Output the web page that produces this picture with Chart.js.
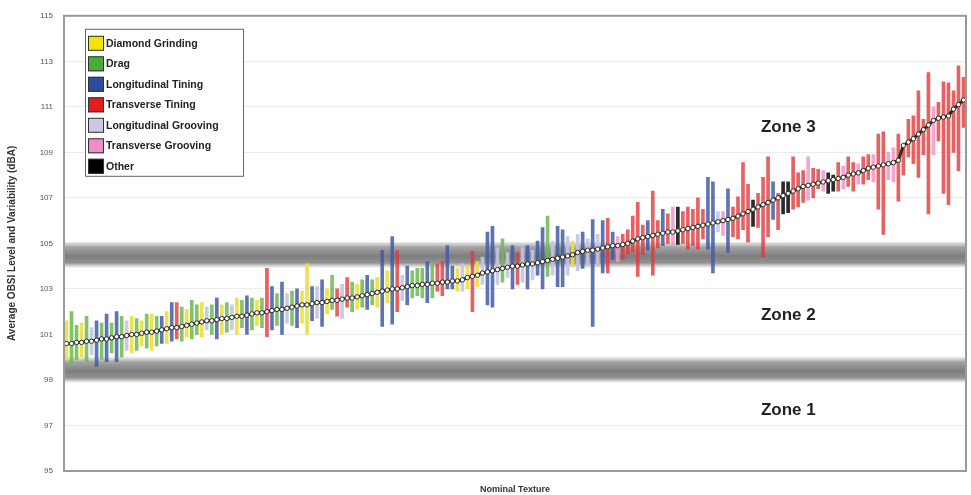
<!DOCTYPE html>
<html>
<head>
<meta charset="utf-8">
<script src="https://cdn.jsdelivr.net/npm/chart.js@4"></script>
<style>
  html, body { margin: 0; padding: 0; background: #fff; }
  canvas { display: block; }
</style>
</head>
<body>
<canvas id="obsiChart" width="971" height="495"></canvas>
<script>
// Average OBSI level per pavement section (dBA), sorted from quietest to loudest
const meanLevel = [
  100.6, 100.6, 100.65, 100.65, 100.7, 100.7, 100.75, 100.8, 100.8, 100.85,
  100.9, 100.9, 100.95, 101.0, 101.0, 101.05, 101.1, 101.1, 101.15, 101.2,
  101.25, 101.3, 101.3, 101.35, 101.4, 101.45, 101.5, 101.55, 101.6, 101.6,
  101.65, 101.7, 101.7, 101.75, 101.8, 101.8, 101.85, 101.9, 101.95, 101.95,
  102.0, 102.05, 102.1, 102.1, 102.15, 102.2, 102.25, 102.3, 102.3, 102.35,
  102.4, 102.4, 102.45, 102.5, 102.5, 102.55, 102.6, 102.6, 102.65, 102.7,
  102.75, 102.8, 102.85, 102.9, 102.95, 103.0, 103.0, 103.05, 103.1, 103.15,
  103.15, 103.2, 103.2, 103.25, 103.25, 103.3, 103.3, 103.35, 103.35, 103.4,
  103.5, 103.55, 103.6, 103.7, 103.75, 103.8, 103.85, 103.9, 103.95, 104.0,
  104.0, 104.05, 104.1, 104.1, 104.15, 104.2, 104.25, 104.3, 104.35, 104.4,
  104.45, 104.5, 104.6, 104.65, 104.7, 104.7, 104.75, 104.8, 104.85, 104.9,
  104.9, 104.95, 105.0, 105.1, 105.2, 105.25, 105.3, 105.35, 105.4, 105.45,
  105.5, 105.5, 105.55, 105.6, 105.65, 105.7, 105.75, 105.8, 105.85, 105.9,
  105.95, 106.0, 106.05, 106.1, 106.2, 106.3, 106.4, 106.5, 106.6, 106.7,
  106.8, 106.9, 107.0, 107.1, 107.2, 107.3, 107.4, 107.5, 107.55, 107.6,
  107.65, 107.7, 107.75, 107.8, 107.85, 107.9, 108.0, 108.05, 108.1, 108.2,
  108.3, 108.35, 108.4, 108.45, 108.5, 108.55, 108.65, 109.3, 109.45, 109.6,
  109.8, 110.0, 110.2, 110.4, 110.5, 110.55, 110.6, 110.9, 111.1, 111.3
];

// bottom of the variability bar
const lowLevel = [
  99.9, 99.7, 99.9, 100.0, 99.8, 100.1, 99.6, 99.9, 99.8, 100.2,
  99.8, 100.0, 100.3, 100.2, 100.3, 100.5, 100.4, 100.3, 100.5, 100.6,
  100.6, 100.7, 100.8, 100.7, 100.9, 100.8, 101.0, 100.9, 101.2, 101.0,
  100.8, 101.0, 101.1, 101.2, 101.0, 101.3, 101.0, 101.2, 101.4, 101.3,
  100.9, 101.2, 101.4, 101.0, 101.5, 101.4, 101.3, 101.5, 101.0, 101.6,
  101.7, 101.35, 101.9, 102.1, 101.8, 101.7, 102.2, 102.0, 102.1, 102.2,
  102.1, 102.3, 102.2, 101.35, 102.4, 101.45, 102.0, 102.5, 102.3, 102.6,
  102.7, 102.6, 102.4, 102.6, 102.9, 102.7, 103.0, 103.0, 102.9, 102.9,
  103.0, 102.0, 103.1, 103.2, 102.3, 102.2, 103.2, 103.3, 103.5, 103.0,
  103.2, 103.3, 103.0, 103.4, 103.6, 103.0, 103.55, 103.6, 103.1, 103.1,
  103.6, 104.0, 103.8, 103.9, 104.0, 101.35, 104.0, 103.7, 103.7, 104.3,
  104.2, 104.3, 104.5, 104.6, 103.55, 104.5, 104.7, 103.6, 104.8, 104.9,
  105.0, 104.9, 104.95, 105.0, 104.75, 104.9, 104.75, 105.2, 104.75, 103.7,
  105.5, 105.35, 104.6, 105.3, 105.2, 105.6, 105.05, 105.75, 105.7, 104.4,
  105.3, 106.05, 105.6, 106.3, 106.35, 106.5, 106.6, 106.8, 106.9, 107.0,
  107.4, 107.3, 107.2, 107.3, 107.3, 107.4, 107.5, 107.3, 107.6, 107.6,
  107.8, 107.7, 106.5, 105.4, 107.8, 107.7, 106.85, 108.0, 108.8, 108.5,
  107.9, 108.9, 106.3, 108.9, 109.5, 107.2, 106.7, 109.0, 108.2, 110.1
];

// top of the variability bar
const highLevel = [
  101.6, 102.0, 101.4, 101.5, 101.8, 101.3, 101.6, 101.5, 101.9, 101.5,
  102.0, 101.8, 101.6, 101.8, 101.7, 101.6, 101.9, 101.9, 101.8, 101.8,
  102.0, 102.4, 102.4, 102.2, 102.1, 102.5, 102.3, 102.4, 102.2, 102.3,
  102.6, 102.3, 102.4, 102.3, 102.6, 102.5, 102.7, 102.6, 102.5, 102.6,
  103.9, 103.1, 102.8, 103.3, 102.8, 102.9, 103.0, 102.9, 104.1, 103.1,
  103.1, 103.4, 103.0, 103.6, 103.0, 103.2, 103.5, 103.3, 103.2, 103.4,
  103.6, 103.4, 103.5, 104.7, 103.8, 105.3, 104.7, 103.6, 104.0, 103.8,
  103.9, 103.9, 104.2, 104.1, 104.1, 104.2, 104.9, 104.0, 103.9, 104.1,
  104.0, 104.65, 104.2, 104.4, 105.5, 105.75, 104.8, 105.2, 104.6, 104.9,
  104.6, 104.8, 104.9, 104.7, 105.1, 105.7, 106.2, 105.1, 105.75, 105.6,
  105.3, 105.1, 105.4, 105.5, 105.2, 106.05, 105.4, 106.0, 106.1, 105.5,
  105.3, 105.4, 105.6, 106.2, 106.8, 105.8, 106.0, 107.3, 106.0, 106.5,
  106.3, 106.6, 106.6, 106.4, 106.6, 106.5, 107.0, 106.5, 107.9, 107.7,
  106.4, 106.4, 107.4, 106.6, 107.05, 108.55, 107.6, 106.9, 107.2, 107.9,
  108.8, 107.7, 107.2, 107.7, 107.7, 108.8, 108.1, 108.2, 108.8, 108.3,
  108.25, 108.2, 108.1, 108.0, 108.55, 108.4, 108.8, 108.55, 108.5, 108.8,
  108.9, 108.9, 109.8, 109.9, 109.0, 109.2, 109.8, 109.35, 110.45, 110.6,
  111.7, 110.45, 112.5, 111.0, 111.2, 112.1, 112.05, 111.7, 112.8, 112.3
];

// texture of each section: Y diamond grinding, G drag, B long. tining, R trans. tining,
// L long. grooving, P trans. grooving, K other
const textureType = [
  'Y','G','G','Y','G','L','B','G','B','G',
  'B','G','L','Y','G','Y','G','Y','G','B',
  'Y','B','R','G','Y','G','G','Y','L','G',
  'B','Y','G','L','Y','G','B','G','Y','G',
  'R','B','G','B','L','G','B','Y','Y','B',
  'L','B','Y','G','R','L','R','G','Y','G',
  'B','G','Y','B','Y','B','R','L','B','G',
  'G','G','B','G','R','R','B','B','Y','L',
  'Y','R','Y','L','B','B','L','G','L','B',
  'R','L','B','L','B','B','G','L','B','B',
  'L','Y','L','B','L','B','L','B','R','B',
  'P','R','R','R','R','R','B','R','R','B',
  'R','P','K','R','R','R','R','R','B','B',
  'L','P','B','R','R','R','R','K','R','R',
  'R','B','R','K','K','R','R','R','P','R',
  'R','P','K','K','R','P','R','R','P','R',
  'R','P','R','R','P','P','R','R','R','R',
  'R','R','R','P','R','R','R','R','R','R'
];

const legendCodes = ['Y', 'G', 'B', 'R', 'L', 'P', 'K'];
const legendLabels = ['Diamond Grinding', 'Drag', 'Longitudinal Tining', 'Transverse Tining',
  'Longitudinal Grooving', 'Transverse Grooving', 'Other'];

// zone boundaries (dBA) and zone captions
const bandLevels = [104.5, 99.45];
const zoneNames = ['Zone 3', 'Zone 2', 'Zone 1'];
const zoneLevels = [110.1, 101.85, 97.65];

const barColor = {
  Y: 'rgba(236,224,60,0.9)', G: 'rgba(108,186,78,0.85)', B: 'rgba(66,92,168,0.85)',
  R: 'rgba(226,58,58,0.8)', L: 'rgba(196,196,226,0.9)', P: 'rgba(240,150,200,0.85)',
  K: 'rgba(20,20,20,0.9)'
};
const swatchColor = {
  Y: '#f3e400', G: '#48ad3a', B: '#2d4c9e', R: '#e41c1c', L: '#cacae8', P: '#f08cc6', K: '#000'
};

const sections = meanLevel.map((_, i) => 'S' + (i + 1));
const ranges = lowLevel.map((lo, i) => [lo, highLevel[i]]);

const FONT = 'Arial, "Liberation Sans", sans-serif';

// grey zone boundaries behind the bars
const bandPlugin = {
  id: 'bands',
  beforeDatasetsDraw(chart) {
    const { ctx, chartArea: a, scales: { y } } = chart;
    bandLevels.forEach(v => {
      const top = y.getPixelForValue(v + 0.6);
      const bot = y.getPixelForValue(v - 0.6);
      const g = ctx.createLinearGradient(0, top, 0, bot);
      g.addColorStop(0, 'rgba(160,160,160,0)');
      g.addColorStop(0.22, 'rgba(155,155,155,0.92)');
      g.addColorStop(0.55, 'rgba(125,125,125,1)');
      g.addColorStop(0.8, 'rgba(138,138,138,0.92)');
      g.addColorStop(1, 'rgba(170,170,170,0)');
      ctx.save();
      ctx.fillStyle = g;
      ctx.fillRect(a.left, top, a.right - a.left, bot - top);
      ctx.restore();
    });
  }
};

// frame, zone captions and the boxed legend
const overlayPlugin = {
  id: 'overlay',
  afterDraw(chart) {
    const { ctx, chartArea: a, scales: { y } } = chart;
    ctx.save();
    ctx.strokeStyle = '#9a9a9a';
    ctx.lineWidth = 2;
    ctx.strokeRect(a.left, a.top, a.right - a.left, a.bottom - a.top);

    ctx.fillStyle = '#222';
    ctx.font = 'bold 17px ' + FONT;
    ctx.textAlign = 'center';
    ctx.textBaseline = 'middle';
    const zx = a.left + (a.right - a.left) * 0.803;
    zoneNames.forEach((z, i) => ctx.fillText(z, zx, y.getPixelForValue(zoneLevels[i])));

    const lx = a.left + 21, ly = a.top + 13;
    ctx.fillStyle = '#fff';
    ctx.fillRect(lx, ly, 158, 147);
    ctx.strokeStyle = '#666';
    ctx.lineWidth = 1;
    ctx.strokeRect(lx + 0.5, ly + 0.5, 158, 147);
    ctx.font = 'bold 10.5px ' + FONT;
    ctx.textAlign = 'left';
    legendCodes.forEach((c, i) => {
      const ry = ly + 7 + i * 20.5;
      ctx.fillStyle = swatchColor[c];
      ctx.fillRect(lx + 3, ry, 16, 15);
      ctx.strokeStyle = '#333';
      ctx.strokeRect(lx + 3.5, ry + 0.5, 15, 14);
      ctx.fillStyle = '#222';
      ctx.fillText(legendLabels[i], lx + 21, ry + 8);
    });
    ctx.restore();
  }
};

const ctx = document.getElementById('obsiChart').getContext('2d');
new Chart(ctx, {
  data: {
    labels: sections,
    datasets: [
      {
        type: 'line',
        data: meanLevel,
        borderColor: '#2b2b22',
        borderWidth: 3,
        pointRadius: 2.2,
        pointBackgroundColor: '#fff',
        pointBorderColor: '#2b2b22',
        pointBorderWidth: 1,
        order: 0
      },
      {
        type: 'bar',
        data: ranges,
        backgroundColor: textureType.map(t => barColor[t]),
        barThickness: 3,
        order: 1
      }
    ]
  },
  options: {
    responsive: false,
    animation: false,
    devicePixelRatio: 1,
    layout: { padding: { top: 15, right: 2, left: 0, bottom: 0 } },
    plugins: { legend: { display: false }, tooltip: { enabled: false } },
    scales: {
      x: {
        offset: true,
        grid: { display: false },
        border: { display: false },
        ticks: { display: false },
        title: {
          display: true, text: 'Nominal Texture', color: '#333',
          font: { family: FONT, size: 9, weight: 'bold' },
          padding: { top: 10, bottom: 0 }
        },
        afterFit: s => { s.height = 24; }
      },
      y: {
        min: 95,
        max: 115,
        ticks: { stepSize: 2, color: '#555', font: { family: FONT, size: 8 }, padding: 11 },
        grid: { color: '#ececec', drawTicks: false },
        border: { display: false },
        title: {
          display: true, text: 'Average OBSI Level and Variability (dBA)', color: '#333',
          font: { family: FONT, size: 10, weight: 'bold' },
          padding: { top: 6, bottom: 0 }
        },
        afterFit: s => { s.width = 64; }
      }
    }
  },
  plugins: [bandPlugin, overlayPlugin]
});
</script>
</body>
</html>
